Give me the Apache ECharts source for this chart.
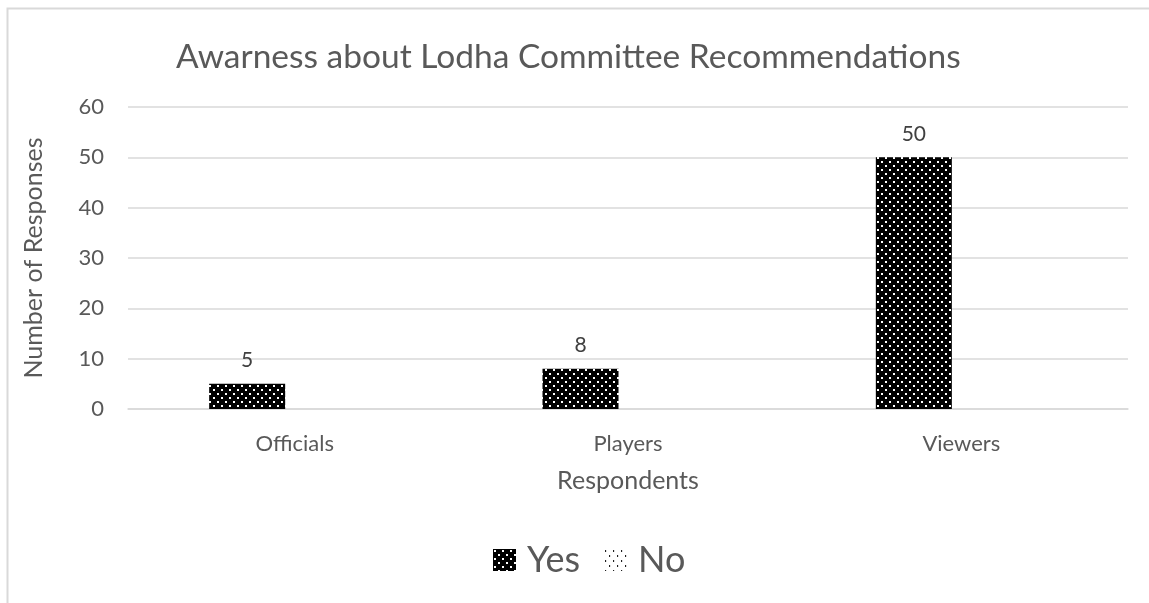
<!DOCTYPE html>
<html>
<head>
<meta charset="utf-8">
<script src="https://cdn.jsdelivr.net/npm/echarts@6/dist/echarts.min.js"></script>
<style>
  html, body { margin: 0; padding: 0; background: #fff; }
  #chart { width: 1149px; height: 603px; }
</style>
</head>
<body>
<div id="chart"></div>
<script>
const titleText = 'Awarness about Lodha Committee Recommendations';
const categories = ['Officials', 'Players', 'Viewers'];
const seriesNames = ['Yes', 'No'];
const yesValues = [5, 8, 50];
const noValues = [0, 0, 0];
const yTicks = { min: 0, max: 60, interval: 10 };
const xAxisTitle = 'Respondents';
const yAxisTitle = 'Number of Responses';

const FONT = 'Lato, "Open Sans", sans-serif';

// Dense dotted fill: black ground, staggered white dots
function densePattern() {
  const c = document.createElement('canvas');
  c.width = 8; c.height = 8;
  const g = c.getContext('2d');
  g.fillStyle = '#000';
  g.fillRect(0, 0, 8, 8);
  g.fillStyle = '#fff';
  g.fillRect(1, 1, 2, 2);
  g.fillRect(5, 5, 2, 2);
  return c;
}

// Sparse dotted fill: white ground, staggered black dots
function sparsePattern() {
  const c = document.createElement('canvas');
  c.width = 8; c.height = 10;
  const g = c.getContext('2d');
  g.fillStyle = '#fff';
  g.fillRect(0, 0, 8, 10);
  g.fillStyle = '#000';
  g.fillRect(1, 1, 1, 2);
  g.fillRect(5, 6, 1, 2);
  return c;
}

const chart = echarts.init(document.getElementById('chart'), null, { renderer: 'canvas' });

chart.setOption({
  animation: false,
  backgroundColor: '#fff',
  title: {
    text: titleText,
    left: 171,
    top: 35,
    textStyle: { fontFamily: FONT, fontSize: 33.5, fontWeight: 'normal', color: '#595959' }
  },
  legend: {
    bottom: 20,
    left: 488,
    itemWidth: 23,
    itemHeight: 22,
    itemGap: 24,
    icon: 'rect',
    textStyle: { fontFamily: FONT, fontSize: 36, color: '#595959', padding: [0, 0, 0, 6] },
    data: seriesNames
  },
  graphic: [{
    type: 'rect',
    shape: { x: 7.5, y: 8.5, width: 1160, height: 620 },
    style: { fill: 'none', stroke: '#d9d9d9', lineWidth: 2 },
    silent: true,
    z: -1
  }],
  grid: { left: 128, right: 21, top: 107, bottom: 194, containLabel: false },
  xAxis: {
    type: 'category',
    data: categories,
    name: xAxisTitle,
    nameLocation: 'middle',
    nameGap: 59,
    nameTextStyle: { fontFamily: FONT, fontSize: 25, color: '#595959' },
    axisLine: { lineStyle: { color: '#d9d9d9', width: 1.5 } },
    axisTick: { show: false },
    axisLabel: { fontFamily: FONT, fontSize: 22, color: '#595959', margin: 24 }
  },
  yAxis: {
    type: 'value',
    min: yTicks.min,
    max: yTicks.max,
    interval: yTicks.interval,
    name: yAxisTitle,
    nameLocation: 'middle',
    nameRotate: 90,
    nameGap: 82,
    nameTextStyle: { fontFamily: FONT, fontSize: 25, color: '#595959' },
    axisLine: { show: false },
    axisTick: { show: false },
    splitLine: { lineStyle: { color: '#d9d9d9', width: 1.5 } },
    axisLabel: { fontFamily: FONT, fontSize: 22, color: '#595959', margin: 24 }
  },
  series: [
    {
      name: seriesNames[0],
      type: 'bar',
      data: yesValues,
      barWidth: 76,
      barGap: '25%',
      itemStyle: { color: { image: densePattern(), repeat: 'repeat' } },
      label: {
        show: true,
        position: 'top',
        distance: 13,
        fontFamily: FONT,
        fontSize: 21,
        color: '#404040'
      }
    },
    {
      name: seriesNames[1],
      type: 'bar',
      data: noValues,
      barWidth: 76,
      itemStyle: { color: { image: sparsePattern(), repeat: 'repeat' } },
      label: { show: false }
    }
  ]
});
</script>
</body>
</html>
